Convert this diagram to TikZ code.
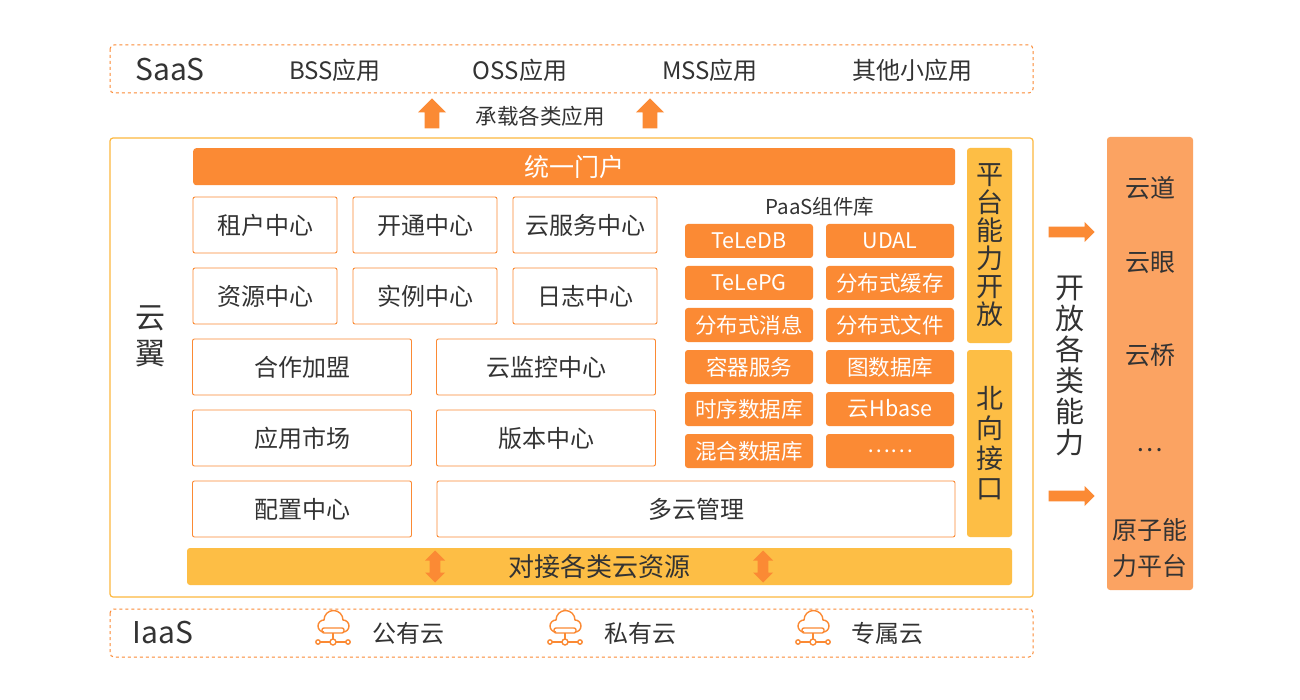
\documentclass[tikz,border=0pt]{standalone}
\usepackage{fontspec}
\setmainfont{Noto Sans CJK SC}
\usetikzlibrary{shapes,arrows,positioning,fit,backgrounds}
\definecolor{orng}{HTML}{FB8A34}
\definecolor{yel}{HTML}{FDBE45}
\definecolor{peach}{HTML}{FBA362}
\definecolor{txt}{HTML}{333333}
\tikzset{
  cell/.style={draw=orng, rounded corners=2pt, line width=0.9pt, fill=white, text=txt, font=\fontsize{24}{24}\selectfont},
  comp/.style={fill=orng, rounded corners=3pt, text=white, font=\fontsize{21.5}{21.5}\selectfont},
  layer/.style={draw=orng, dashed, line width=1pt, rounded corners=4pt},
  fatup/.style={single arrow, fill=orng, minimum width=28pt, single arrow head extend=2pt, minimum height=30pt, rotate=90, inner sep=2pt},
  fatdbl/.style={double arrow, fill=orng, minimum width=20pt, double arrow head extend=1pt, minimum height=32pt, rotate=90, inner sep=1pt},
  lbl/.style={text=txt, font=\fontsize{24}{24}\selectfont}
}
\newcommand{\cloudicon}[1]{%
  \begin{scope}[shift={(#1)}, yscale=-1, draw=orng, line width=1.4pt]
    \draw (-9,-2) arc (270:90:6) arc (180:0:9.5) arc (90:-90:6);
    \draw[rounded corners=2pt] (-11,-3) rectangle (11,2);
    \draw (0,-3) -- (0,-10);
    \draw (-14,-12) -- (14,-12);
    \draw[fill=white] (0,-12) circle (3);
    \draw[fill=white] (-15,-12) circle (2.2);
    \draw[fill=white] (15,-12) circle (2.2);
  \end{scope}}
\begin{document}
\begin{tikzpicture}[x=1pt,y=-1pt]
\useasboundingbox[fill=white] (0,0) rectangle (1300,700);
% SaaS layer
\draw[layer] (110,45) rectangle (1033,93);
\node[lbl, font=\fontsize{30}{30}\selectfont] (saas) at (170,70) {SaaS};
\node[lbl] (bss) at (335,70) {BSS应用};
\node[lbl] (oss) at (520,70) {OSS应用};
\node[lbl] (mss) at (710,70) {MSS应用};
\node[lbl] (other) at (912,70) {其他小应用};
\node[fatup] (upa) at (432,117) {};
\node[fatup] (upb) at (650,117) {};
\node[lbl, font=\fontsize{21.5}{21.5}\selectfont] (carry) at (540,116) {承载各类应用};
% main frame
\draw[draw=yel!90!orange, line width=1.2pt, rounded corners=3pt] (110,138) rectangle (1033,597);
\node[lbl, font=\fontsize{30}{30}\selectfont, align=center] (yunyi) at (150,336) {云\\[6pt]翼};
\node[comp, minimum width=762pt, minimum height=37pt, font=\fontsize{25}{25}\selectfont, anchor=north west] (portal) at (193,148) {统一门户};
% centres
\foreach \t/\x/\y in {租户中心/265/225, 开通中心/425/225, 云服务中心/585/225,
                      资源中心/265/296, 实例中心/425/296, 日志中心/585/296}
  \node[cell, minimum width=144pt, minimum height=56pt] (c\x\y) at (\x,\y) {\t};
\foreach \t/\x/\y in {合作加盟/302/367, 云监控中心/546/367,
                      应用市场/302/438, 版本中心/546/438, 配置中心/302/509}
  \node[cell, minimum width=219pt, minimum height=56pt] (w\x\y) at (\x,\y) {\t};
\node[cell, minimum width=518pt, minimum height=56pt] (multi) at (696,509) {多云管理};
% PaaS components
\node[lbl, font=\fontsize{20.5}{20.5}\selectfont] (paas) at (820,207) {PaaS组件库};
\foreach \t/\x/\y in {TeLeDB/749/241, UDAL/890/241, TeLePG/749/283, 分布式缓存/890/283,
                      分布式消息/749/325, 分布式文件/890/325, 容器服务/749/367, 图数据库/890/367,
                      时序数据库/749/409, 云Hbase/890/409, 混合数据库/749/451, {……}/890/451}
  \node[comp, minimum width=128pt, minimum height=34pt] (p\x\y) at (\x,\y) {\t};
% side bars
\node[fill=yel, rounded corners=3pt, minimum width=45pt, minimum height=195pt, align=center, lbl, font=\fontsize{27}{28}\selectfont] (open) at (989.5,245.5) {平\\台\\能\\力\\开\\放};
\node[fill=yel, rounded corners=3pt, minimum width=45pt, minimum height=187pt, align=center, lbl, font=\fontsize{27}{30}\selectfont] (north) at (989.5,443.5) {北\\向\\接\\口};
% bottom bar
\node[fill=yel, rounded corners=3pt, minimum width=825pt, minimum height=37pt, lbl, font=\fontsize{26}{26}\selectfont] (dock) at (599.5,566.5) {对接各类云资源};
\node[fatdbl] (dbla) at (435,566.5) {};
\node[fatdbl] (dblb) at (763,566.5) {};
% IaaS layer
\draw[layer] (110,609) rectangle (1033,657);
\node[lbl, font=\fontsize{30}{30}\selectfont] (iaas) at (163,633) {IaaS};
\cloudicon{333,630}
\cloudicon{565,630}
\cloudicon{813,630}
\node[lbl] (pub) at (408,633) {公有云};
\node[lbl] (pri) at (640,633) {私有云};
\node[lbl] (ded) at (887,633) {专属云};
% capabilities
\node[single arrow, fill=orng, minimum width=20pt, single arrow head extend=1pt, minimum height=46pt, inner sep=1pt] (ra) at (1069,232) {};
\node[single arrow, fill=orng, minimum width=20pt, single arrow head extend=1pt, minimum height=46pt, inner sep=1pt] (rb) at (1069,496) {};
\node[lbl, font=\fontsize{29}{31}\selectfont, align=center] (openall) at (1070,366) {开\\放\\各\\类\\能\\力};
\node[fill=peach, rounded corners=3pt, minimum width=86pt, minimum height=453pt] (atom) at (1150,363.5) {};
\foreach \t/\y in {云道/188, 云眼/263, 云桥/355, …/450}
  \node[lbl, font=\fontsize{25}{25}\selectfont] (a\y) at (1150,\y) {\t};
\node[lbl, font=\fontsize{25}{36}\selectfont, align=center] (atomp) at (1150,548) {原子能\\力平台};
\end{tikzpicture}
\end{document}
